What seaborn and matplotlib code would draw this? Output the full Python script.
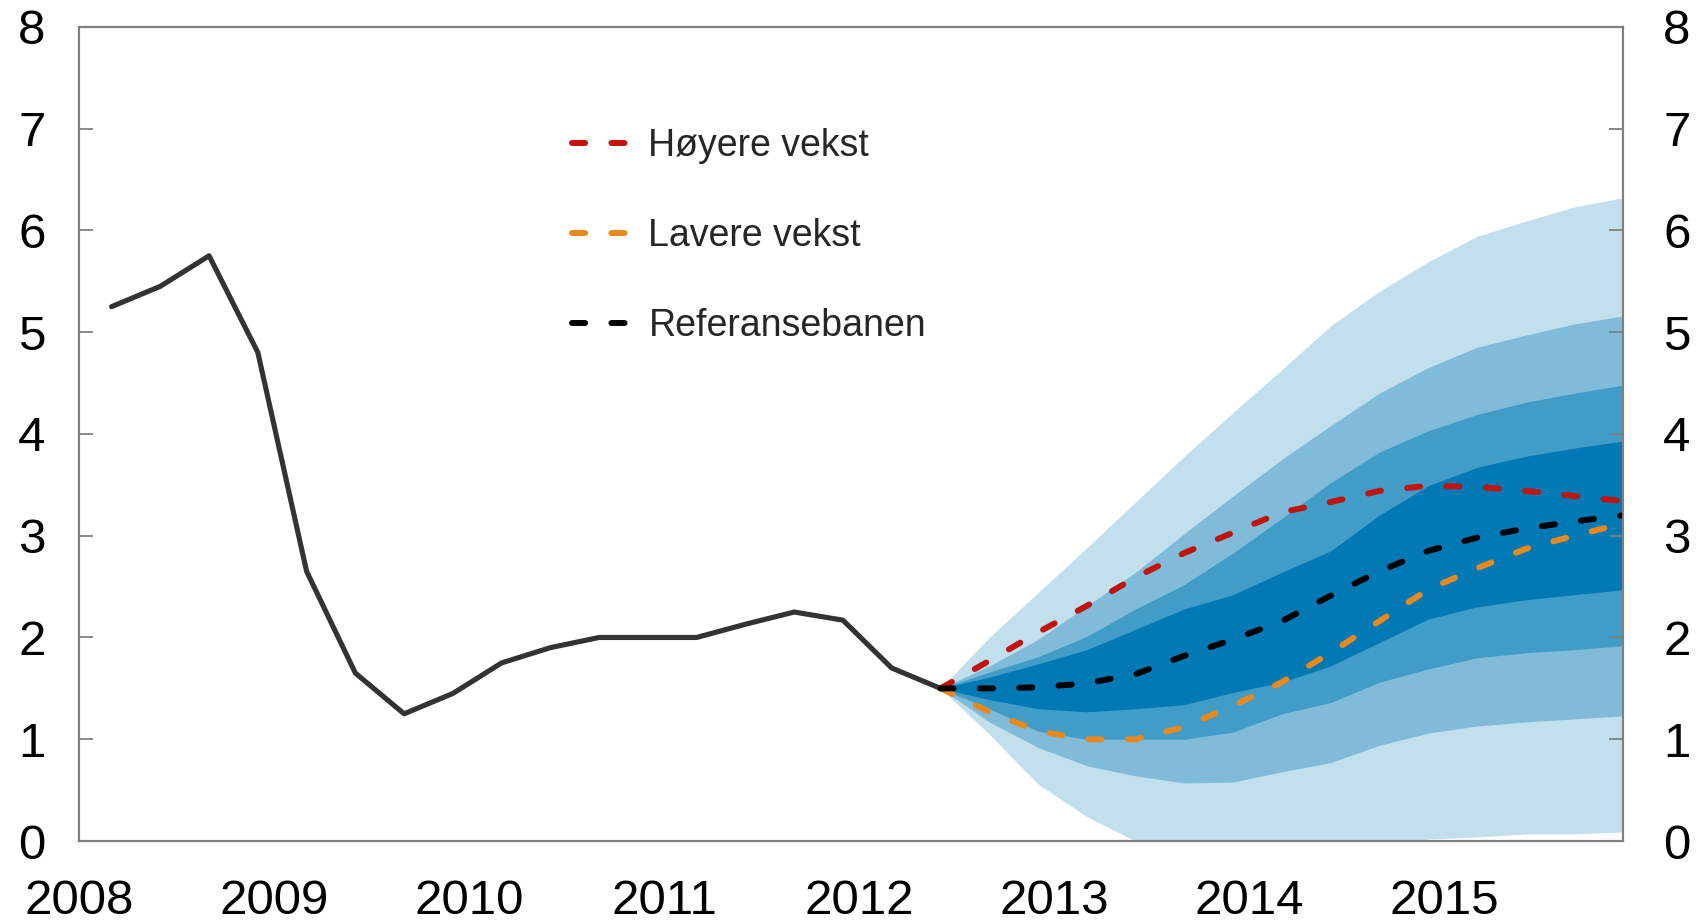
import numpy as np
import pandas as pd
import seaborn as sns
import matplotlib.pyplot as plt

sns.set_style("white")
plt.rcParams['font.family'] = ['Liberation Sans', 'DejaVu Sans']

# kvartalsvise data, 2008K1 - 2012K2 (historie)
historikk = [5.25, 5.45, 5.75, 4.80, 2.65, 1.65, 1.25, 1.45, 1.75, 1.90,
             2.00, 2.00, 2.00, 2.13, 2.25, 2.17, 1.70, 1.50]

# prognoser 2012K2 - 2015K4
referanse = [1.50, 1.50, 1.51, 1.55, 1.64, 1.82, 1.98, 2.16, 2.41, 2.65,
             2.85, 2.98, 3.07, 3.14, 3.20]
hoyere = [1.50, 1.77, 2.05, 2.31, 2.59, 2.83, 3.03, 3.23, 3.33, 3.44,
          3.49, 3.48, 3.44, 3.39, 3.34]
lavere = [1.50, 1.27, 1.08, 1.00, 1.00, 1.12, 1.33, 1.56, 1.85, 2.16,
          2.47, 2.68, 2.87, 3.00, 3.12]

# vifte: nedre / ovre grenser, ytterst til innerst
vifte_90_lav = [1.50, 1.05, 0.56, 0.24, 0.00, -0.20, -0.30, -0.30, -0.20, -0.05,
                0.02, 0.04, 0.07, 0.07, 0.09]
vifte_90_hoy = [1.50, 2.00, 2.44, 2.88, 3.33, 3.78, 4.21, 4.63, 5.06, 5.40,
                5.69, 5.94, 6.09, 6.23, 6.32]
vifte_70_lav = [1.50, 1.17, 0.92, 0.74, 0.64, 0.57, 0.58, 0.68, 0.77, 0.94,
                1.06, 1.13, 1.17, 1.20, 1.23]
vifte_70_hoy = [1.50, 1.72, 1.98, 2.31, 2.64, 3.02, 3.39, 3.75, 4.08, 4.40,
                4.65, 4.85, 4.97, 5.08, 5.16]
vifte_50_lav = [1.50, 1.30, 1.08, 1.00, 1.00, 1.00, 1.07, 1.25, 1.36, 1.56,
                1.69, 1.80, 1.85, 1.88, 1.92]
vifte_50_hoy = [1.50, 1.66, 1.81, 2.01, 2.28, 2.52, 2.83, 3.17, 3.52, 3.82,
                4.03, 4.19, 4.31, 4.40, 4.48]
vifte_30_lav = [1.50, 1.39, 1.30, 1.27, 1.30, 1.34, 1.46, 1.56, 1.72, 1.95,
                2.18, 2.30, 2.37, 2.42, 2.47]
vifte_30_hoy = [1.50, 1.61, 1.74, 1.88, 2.08, 2.28, 2.42, 2.64, 2.85, 3.20,
                3.49, 3.67, 3.78, 3.86, 3.93]

farger_vifte = ['#c2dfee', '#80bcd9', '#419cc8', '#0079b5']

# kvartaler -> desimalaar (punkt ved kvartalets siste maaned)
kvartaler = pd.period_range('2008Q1', '2015Q4', freq='Q')
x_alle = np.array([p.year + (p.quarter - 1) / 4 + 1 / 6 for p in kvartaler])
x_hist = x_alle[:len(historikk)]
x_prog = x_alle[len(historikk) - 1:]

fig, ax = plt.subplots(figsize=(17.04, 9.23), dpi=100)
fig.subplots_adjust(left=0.0464, right=0.9525, top=0.971, bottom=0.0888)

baand = [(vifte_90_lav, vifte_90_hoy), (vifte_70_lav, vifte_70_hoy),
         (vifte_50_lav, vifte_50_hoy), (vifte_30_lav, vifte_30_hoy)]
for (lav, hoy), farge in zip(baand, farger_vifte):
    ax.fill_between(x_prog, lav, hoy, color=farge, linewidth=0, zorder=1)

sns.lineplot(x=x_hist, y=historikk, ax=ax, color='#333333', linewidth=3.7, zorder=3)

strek = (0, (2.2, 4.4))
lw_strek = 4.3
sns.lineplot(x=x_prog, y=hoyere, ax=ax, color='#c0140c', linewidth=lw_strek,
             linestyle=strek, dash_capstyle='round', label='Høyere vekst', zorder=4)
sns.lineplot(x=x_prog, y=lavere, ax=ax, color='#e8891f', linewidth=lw_strek,
             linestyle=strek, dash_capstyle='round', label='Lavere vekst', zorder=4)
sns.lineplot(x=x_prog, y=referanse, ax=ax, color='#000000', linewidth=lw_strek,
             linestyle=strek, dash_capstyle='round', label='Referansebanen', zorder=5)

ax.set_xlim(2008, x_alle[-1])
ax.set_ylim(0, 8)
ax.set_xticks(range(2008, 2016))
ax.set_yticks(range(0, 9))
ax.set_xlabel('')
ax.set_ylabel('')

ax2 = ax.twinx()
ax2.set_ylim(0, 8)
ax2.set_yticks(range(0, 9))

for a in (ax, ax2):
    for s in a.spines.values():
        s.set_color('#808080')
        s.set_linewidth(1.5)
        s.set_visible(True)
ax.tick_params(axis='both', direction='in', length=10, width=1.3, color='#808080',
               labelsize=35.5, labelcolor='black')
ax.tick_params(axis='y', pad=24)
ax.tick_params(axis='x', pad=27)
ax2.tick_params(axis='y', direction='in', length=10, width=1.3, color='#808080',
                labelsize=35.5, labelcolor='black', pad=29)

leg = ax.legend(loc='upper left', bbox_to_anchor=(0.319, 0.876), frameon=False,
                fontsize=27, handlelength=1.75, handletextpad=0.3,
                labelspacing=1.45, borderpad=0, borderaxespad=0)

fig.savefig('out.png', dpi=100)
